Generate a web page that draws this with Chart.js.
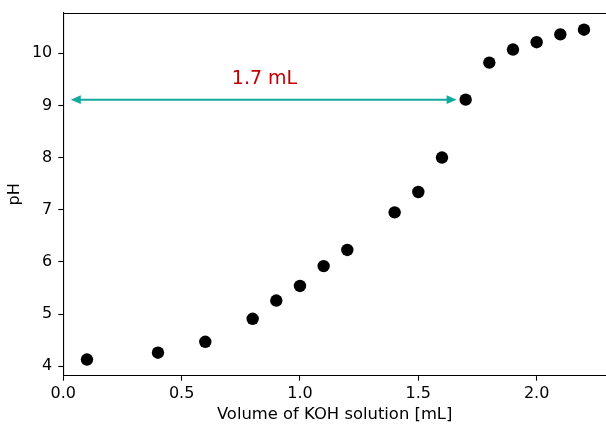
<!DOCTYPE html>
<html>
<head>
<meta charset="utf-8">
<script src="https://cdn.jsdelivr.net/npm/chart.js@4.4.0/dist/chart.umd.min.js"></script>
<style>
  html, body { margin: 0; padding: 0; background: #fff; overflow: hidden; }
  #wrap { width: 606px; height: 425px; position: relative; }
</style>
</head>
<body>
<div id="wrap"><canvas id="c" width="606" height="425"></canvas></div>
<script>
const volumes = [0.1, 0.4, 0.6, 0.8, 0.9, 1.0, 1.1, 1.2, 1.4, 1.5, 1.6, 1.7, 1.8, 1.9, 2.0, 2.1, 2.2];
const phValues = [4.13, 4.26, 4.47, 4.91, 5.26, 5.54, 5.92, 6.23, 6.95, 7.34, 8.00, 9.11, 9.82, 10.07, 10.21, 10.36, 10.45];
const xTicks = [0.0, 0.5, 1.0, 1.5, 2.0];
const yTicks = [4, 5, 6, 7, 8, 9, 10];
const xRange = [0, 2.293];
const yRange = [3.82, 10.77];
const arrowX = [0, 1.7];
const arrowY = 9.11;
const labelText = "1.7 mL";
const labelPos = [0.85, 9.4];

const FONT = "'DejaVu Sans', sans-serif";

const overlay = {
  id: 'overlay',
  afterDatasetsDraw(chart) {
    const ctx = chart.ctx;
    const xs = chart.scales.x, ys = chart.scales.y;
    const ca = chart.chartArea;
    ctx.save();
    // top spine
    ctx.strokeStyle = '#000';
    ctx.lineWidth = 1.1;
    ctx.beginPath();
    ctx.moveTo(ca.left, ca.top + 0.5);
    ctx.lineTo(ca.right, ca.top + 0.5);
    ctx.stroke();
    // double-headed arrow
    const y = ys.getPixelForValue(arrowY);
    const x0 = xs.getPixelForValue(arrowX[0]) + 7.5;
    const x1 = xs.getPixelForValue(arrowX[1]) - 9;
    const hl = 10, hw = 4.3;
    ctx.strokeStyle = '#12aa9c';
    ctx.fillStyle = '#12aa9c';
    ctx.lineWidth = 2;
    ctx.beginPath();
    ctx.moveTo(x0 + hl - 1, y);
    ctx.lineTo(x1 - hl + 1, y);
    ctx.stroke();
    ctx.beginPath();
    ctx.moveTo(x0, y); ctx.lineTo(x0 + hl, y - hw); ctx.lineTo(x0 + hl, y + hw); ctx.closePath(); ctx.fill();
    ctx.beginPath();
    ctx.moveTo(x1, y); ctx.lineTo(x1 - hl, y - hw); ctx.lineTo(x1 - hl, y + hw); ctx.closePath(); ctx.fill();
    // label
    ctx.fillStyle = '#c00000';
    ctx.font = "19px " + FONT;
    ctx.textAlign = 'center';
    ctx.textBaseline = 'alphabetic';
    ctx.fillText(labelText, xs.getPixelForValue(labelPos[0]), ys.getPixelForValue(labelPos[1]));
    ctx.restore();
  }
};

new Chart(document.getElementById('c'), {
  type: 'scatter',
  data: {
    datasets: [{
      data: volumes.map((v, i) => ({ x: v, y: phValues[i] })),
      backgroundColor: '#000',
      borderColor: '#000',
      borderWidth: 0,
      pointRadius: 6.2,
      pointHoverRadius: 6.2
    }]
  },
  options: {
    responsive: false,
    animation: false,
    events: [],
    layout: { autoPadding: false, padding: { left: 0, top: 13, right: 0, bottom: 0 } },
    plugins: { legend: { display: false }, tooltip: { enabled: false } },
    scales: {
      x: {
        type: 'linear',
        min: xRange[0], max: xRange[1],
        afterBuildTicks(s) { s.ticks = xTicks.map(v => ({ value: v })); },
        afterFit(s) { s.height = 49.3; s.paddingLeft = 0; s.paddingRight = 0; },
        grid: { drawOnChartArea: false, drawTicks: true, tickLength: 5, tickWidth: 1.1, tickColor: '#000' },
        border: { display: true, color: '#000', width: 1.1 },
        ticks: { color: '#000', font: { family: FONT, size: 16 }, padding: 4, maxRotation: 0,
                 callback: v => Number(v).toFixed(1) },
        title: { display: true, text: 'Volume of KOH solution [mL]', color: '#000',
                 font: { family: FONT, size: 16.4 }, padding: { top: 0, bottom: 0 } }
      },
      y: {
        type: 'linear',
        min: yRange[0], max: yRange[1],
        afterBuildTicks(s) { s.ticks = yTicks.map(v => ({ value: v })); },
        afterFit(s) { s.width = 63.3; s.paddingTop = 0; s.paddingBottom = 0; },
        grid: { drawOnChartArea: false, drawTicks: true, tickLength: 5, tickWidth: 1.1, tickColor: '#000' },
        border: { display: true, color: '#000', width: 1.1 },
        ticks: { color: '#000', font: { family: FONT, size: 16 }, padding: 6,
                 callback: v => String(v) },
        title: { display: true, text: 'pH', color: '#000',
                 font: { family: FONT, size: 16 }, padding: { top: 5.4, bottom: 0 } }
      }
    }
  },
  plugins: [overlay]
});
</script>
</body>
</html>
